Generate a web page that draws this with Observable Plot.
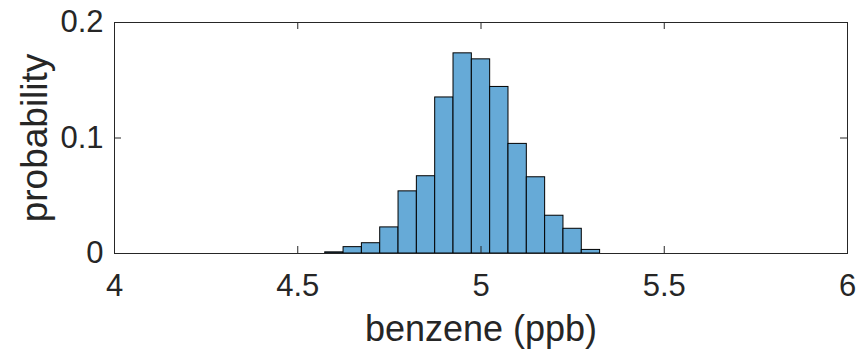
<!DOCTYPE html>
<html>
<head>
<meta charset="utf-8">
<script src="https://cdn.jsdelivr.net/npm/d3@7"></script>
<script src="https://cdn.jsdelivr.net/npm/@observablehq/plot@0.6"></script>
<style>
  html, body { margin: 0; padding: 0; background: #ffffff; }
  #chart { width: 861px; height: 353px; }
</style>
</head>
<body>
<div id="chart"></div>
<script>
// Histogram bins (benzene, ppb) and their probabilities
const binLeft  = [4.575, 4.625, 4.675, 4.725, 4.775, 4.825, 4.875, 4.925, 4.975, 5.025, 5.075, 5.125, 5.175, 5.225, 5.275];
const binRight = [4.625, 4.675, 4.725, 4.775, 4.825, 4.875, 4.925, 4.975, 5.025, 5.075, 5.125, 5.175, 5.225, 5.275, 5.325];
const probability = [0.001, 0.0055, 0.0089, 0.0226, 0.0538, 0.0669, 0.1351, 0.1733, 0.1681, 0.1442, 0.0949, 0.066, 0.0327, 0.0214, 0.0031];

const xTicks = [4, 4.5, 5, 5.5, 6];
const yTicks = [0, 0.1, 0.2];
const xLabel = "benzene (ppb)";
const yLabel = "probability";

const bins = binLeft.map((l, i) => ({x1: l, x2: binRight[i], p: probability[i]}));

const W = 861, H = 353, ML = 114, MR = 14, MT = 22, MB = 100;
const tickLen = 7;
const frameW = W - ML - MR, frameH = H - MT - MB;
const ink = "#262626";

const chart = Plot.plot({
  width: W,
  height: H,
  marginLeft: ML,
  marginRight: MR,
  marginTop: MT,
  marginBottom: MB,
  style: {
    fontFamily: "'Liberation Sans', Arial, sans-serif",
    fontSize: "31px",
    color: ink,
    background: "#ffffff"
  },
  x: {domain: [4, 6]},
  y: {domain: [0, 0.2]},
  marks: [
    Plot.rectY(bins, {x1: "x1", x2: "x2", y: "p", fill: "#66AAD7", stroke: "#000000", strokeWidth: 1}),
    Plot.frame({stroke: ink, strokeWidth: 1}),
    // inward tick marks on all four sides
    Plot.tickX(xTicks, {x: d => d, insetTop: frameH - tickLen, stroke: ink, strokeWidth: 1}),
    Plot.tickX(xTicks, {x: d => d, insetBottom: frameH - tickLen, stroke: ink, strokeWidth: 1}),
    Plot.tickY(yTicks, {y: d => d, insetRight: frameW - tickLen, stroke: ink, strokeWidth: 1}),
    Plot.tickY(yTicks, {y: d => d, insetLeft: frameW - tickLen, stroke: ink, strokeWidth: 1}),
    Plot.axisX(xTicks, {anchor: "bottom", tickSize: 0, tickPadding: 20, tickFormat: d => String(d), label: null}),
    Plot.axisY(yTicks, {anchor: "left", tickSize: 0, tickPadding: 11, tickFormat: d => String(d), label: null}),
    Plot.text([xLabel], {frameAnchor: "bottom", dy: 87, lineAnchor: "bottom", textAnchor: "middle", fontSize: 36, fill: ink}),
    Plot.text([yLabel], {frameAnchor: "left", dx: -79, rotate: -90, lineAnchor: "middle", textAnchor: "middle", fontSize: 37, fill: ink})
  ]
});
document.getElementById("chart").appendChild(chart);
</script>
</body>
</html>
